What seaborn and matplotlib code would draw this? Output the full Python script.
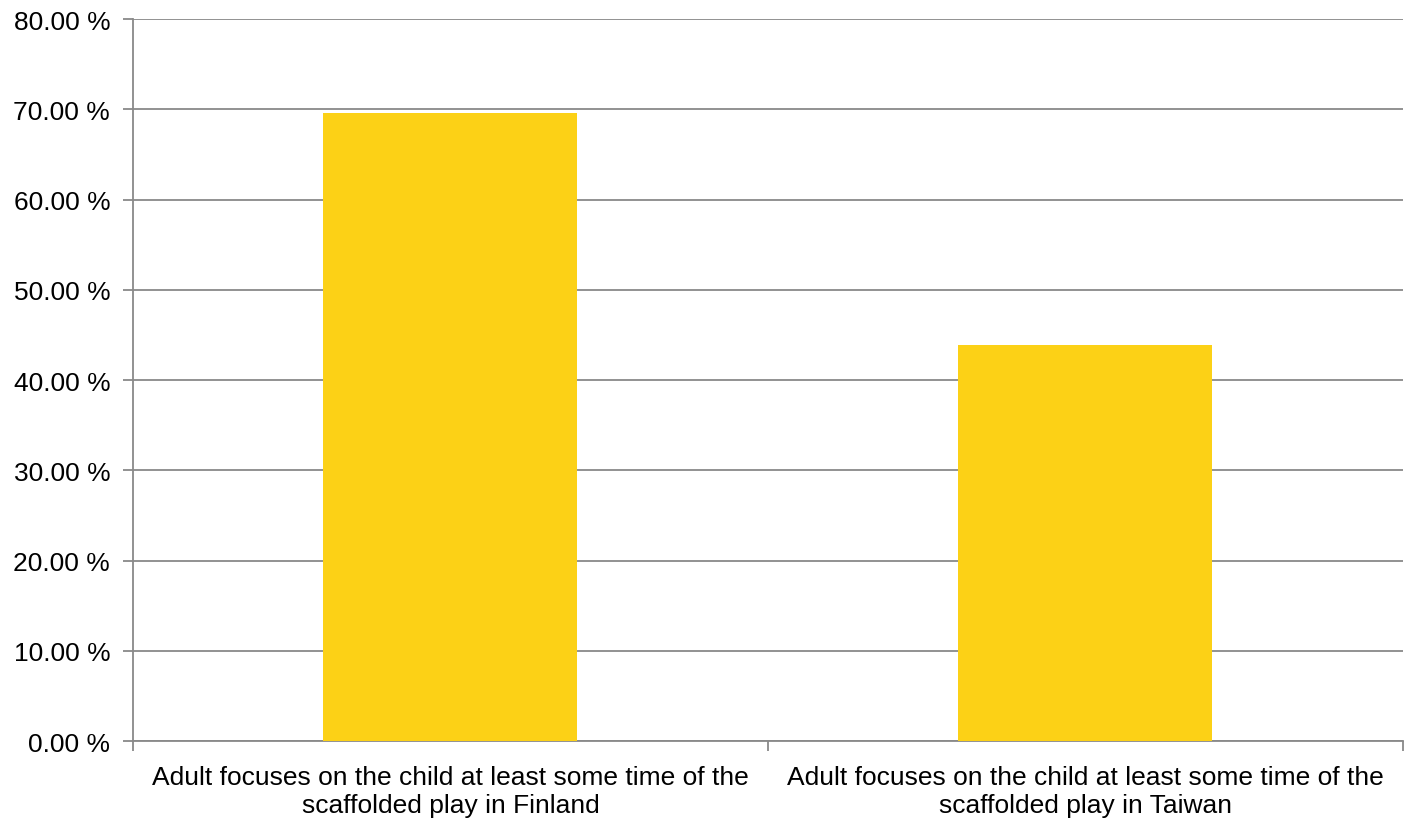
import matplotlib
matplotlib.use("Agg")
import matplotlib.pyplot as plt
from matplotlib.ticker import FuncFormatter, MultipleLocator
import seaborn as sns
import pandas as pd

categories = [
    "Adult focuses on the child at least some time of the\nscaffolded play in Finland",
    "Adult focuses on the child at least some time of the\nscaffolded play in Taiwan",
]
shares = [69.59, 43.89]

df = pd.DataFrame({"category": categories, "share": shares})

sns.set_theme(style="white")
plt.rcParams["font.family"] = ["Liberation Sans", "DejaVu Sans"]

grey = "#898989"
fig = plt.figure(figsize=(14.08, 8.2), dpi=100)
ax = fig.add_axes([0.0945, 0.0948, 0.9017, 0.8808])

sns.barplot(data=df, x="category", y="share", color="#FCD116",
            width=0.4, saturation=1, linewidth=0, ax=ax, zorder=3)

ax.set_ylim(0, 80)
ax.set_xlim(-0.5, 1.5)
ax.yaxis.set_major_locator(MultipleLocator(10))
ax.yaxis.set_major_formatter(FuncFormatter(lambda v, _: f"{v:.2f} %"))
ax.grid(axis="y", color=grey, linewidth=1.3, zorder=0)
ax.set_axisbelow(True)

for side in ("top", "right"):
    ax.spines[side].set_visible(False)
for side in ("left", "bottom"):
    ax.spines[side].set_color(grey)
    ax.spines[side].set_linewidth(1.3)

# category boundaries as x ticks, labels centred under each bar
ax.set_xticks([-0.5, 0.5, 1.5])
ax.set_xticklabels([])
ax.set_xticks([0, 1], minor=True)
ax.set_xticklabels(categories, minor=True, fontsize=19, color="black", linespacing=1.22)
ax.tick_params(axis="x", which="major", length=7, width=1.3, color=grey, direction="out", bottom=True)
ax.tick_params(axis="x", which="minor", length=0, pad=17)
ax.tick_params(axis="y", length=7.5, width=1.3, color=grey, direction="out", left=True,
               labelsize=19, labelcolor="black", pad=9)
ax.set_xlabel("")
ax.set_ylabel("")

fig.savefig("out.png", dpi=100)
